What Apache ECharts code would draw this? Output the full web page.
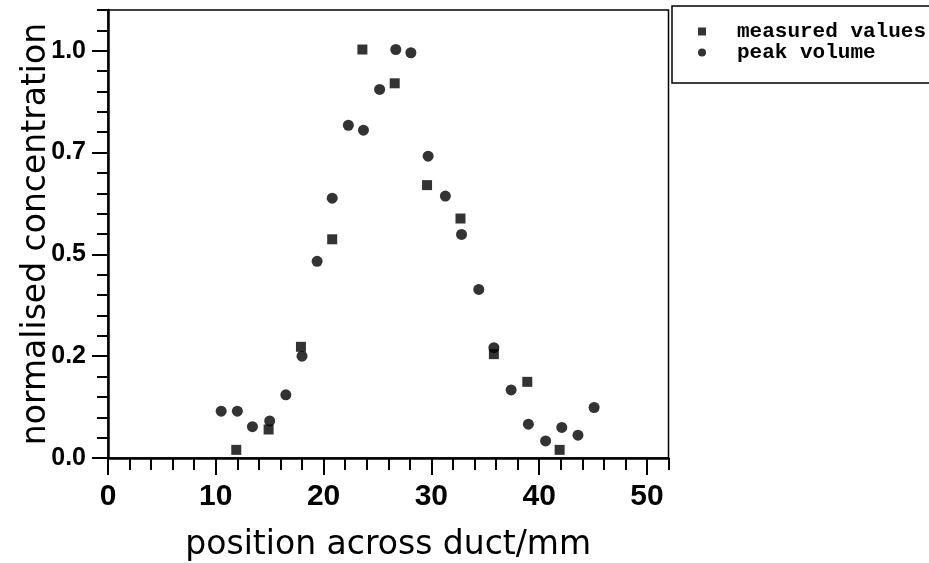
<!DOCTYPE html>
<html>
<head>
<meta charset="utf-8">
<script src="https://cdn.jsdelivr.net/npm/echarts@6/dist/echarts.min.js"></script>
<style>html,body{margin:0;padding:0;background:#fff}#c{width:929px;height:563px}</style>
</head>
<body>
<div id="c"></div>
<script>
// Data
var measuredX = [11.9, 14.9, 17.9, 20.8, 23.6, 26.6, 29.6, 32.7, 35.8, 38.9, 41.9];
var measuredY = [0.02, 0.07, 0.273, 0.537, 1.003, 0.92, 0.67, 0.588, 0.255, 0.187, 0.02];
var peakX = [10.5, 12.0, 13.4, 15.0, 16.5, 18.0, 19.4, 20.8, 22.3, 23.7, 25.2, 26.7, 28.1, 29.7, 31.3, 32.8, 34.4, 35.8, 37.4, 39.0, 40.6, 42.1, 43.6, 45.1];
var peakY = [0.115, 0.115, 0.077, 0.091, 0.155, 0.25, 0.483, 0.638, 0.817, 0.805, 0.905, 1.003, 0.995, 0.741, 0.643, 0.549, 0.414, 0.271, 0.167, 0.083, 0.042, 0.075, 0.056, 0.124];
var xMajorTicks = [0, 10, 20, 30, 40, 50];
var yMajorTicks = [0, 0.25, 0.5, 0.75, 1.0];
var seriesNames = ['measured values', 'peak volume'];
var xTitle = 'position across duct/mm';
var yTitle = 'normalised concentration';

function pairs(xs, ys) { return xs.map(function (x, i) { return [x, ys[i]]; }); }

var titleFont = { fontFamily: 'DejaVu Sans', fontSize: 33, color: '#000' };

var chart = echarts.init(document.getElementById('c'), null, { renderer: 'canvas' });
chart.setOption({
  animation: false,
  backgroundColor: '#fff',
  grid: { left: 108, right: 260.5, top: 10, bottom: 105, show: true, borderColor: '#000', borderWidth: 1.5, containLabel: false, outerBoundsMode: 'none' },
  legend: {
    orient: 'vertical', left: 672, top: 6,
    padding: [15, 60, 20, 26],
    itemGap: 0, itemWidth: 8, itemHeight: 8,
    borderColor: '#000', borderWidth: 1.5,
    data: [{ name: seriesNames[0], icon: 'rect' }, { name: seriesNames[1], icon: 'circle' }],
    textStyle: { fontFamily: 'Liberation Mono', fontWeight: 'bold', fontSize: 21, color: '#000', lineHeight: 19, padding: [0, 0, 0, 26] }
  },
  xAxis: [
    {
      type: 'value', min: 0, max: 52, position: 'bottom',
      name: xTitle, nameLocation: 'middle', nameGap: 71, nameMoveOverlap: false, nameTextStyle: titleFont,
      axisLine: { show: true, onZero: false, lineStyle: { color: '#000', width: 2.5 } },
      axisTick: { show: true, length: 17, customValues: xMajorTicks, lineStyle: { color: '#000', width: 2 } },
      axisLabel: { customValues: xMajorTicks, margin: 24, fontFamily: 'Liberation Sans', fontWeight: 'bold', fontSize: 30, color: '#000' },
      splitLine: { show: false }
    },
    {
      type: 'value', min: 0, max: 52, interval: 2, position: 'bottom', offset: 0,
      axisLine: { show: false },
      axisTick: { show: true, length: 12, lineStyle: { color: '#000', width: 2 } },
      axisLabel: { show: false },
      splitLine: { show: false }
    }
  ],
  yAxis: [
    {
      type: 'value', min: 0, max: 1.1, position: 'left',
      name: yTitle, nameLocation: 'middle', nameGap: 55, nameMoveOverlap: false, nameTextStyle: titleFont,
      axisLine: { show: true, onZero: false, lineStyle: { color: '#000', width: 2.5 } },
      axisTick: { show: true, length: 16, customValues: yMajorTicks, lineStyle: { color: '#000', width: 2 } },
      axisLabel: {
        customValues: yMajorTicks, margin: 22, fontFamily: 'Liberation Sans', fontWeight: 'bold', fontSize: 25, color: '#000',
        formatter: function (v) { return (Math.floor(v * 10 + 1e-9) / 10).toFixed(1); }
      },
      splitLine: { show: false }
    },
    {
      type: 'value', min: 0, max: 1.1, interval: 0.05, position: 'left', offset: 0,
      axisLine: { show: false },
      axisTick: { show: true, length: 11, lineStyle: { color: '#000', width: 2 } },
      axisLabel: { show: false },
      splitLine: { show: false }
    }
  ],
  series: [
    {
      name: seriesNames[0], type: 'scatter', xAxisIndex: 0, yAxisIndex: 0,
      symbol: 'rect', symbolSize: 10, itemStyle: { color: '#000' },
      data: pairs(measuredX, measuredY)
    },
    {
      name: seriesNames[1], type: 'scatter', xAxisIndex: 0, yAxisIndex: 0,
      symbol: 'circle', symbolSize: 11, itemStyle: { color: '#000' },
      data: pairs(peakX, peakY)
    }
  ]
});
</script>
</body>
</html>
